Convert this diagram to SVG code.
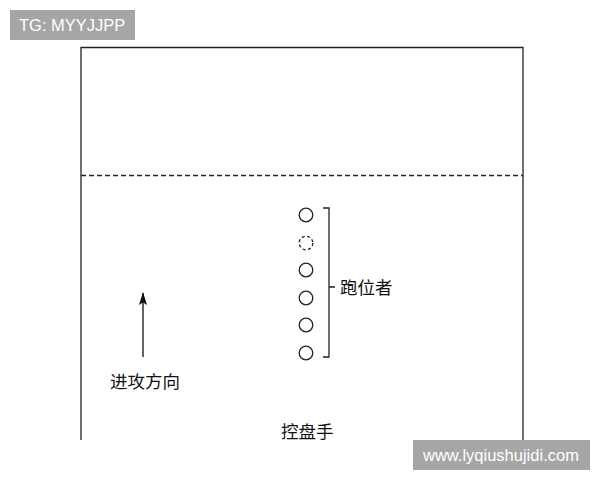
<svg xmlns="http://www.w3.org/2000/svg" width="600" height="480" viewBox="0 0 600 480">
<style>
.ln{stroke:#222;stroke-width:1.3;fill:none}
.c{stroke:#222;stroke-width:1.3;fill:none}
.t{font-family:"Liberation Serif","Noto Sans CJK SC",serif;font-size:17.5px;fill:#111}
.wm{fill:#a6a6a6}
.wt{font-family:"Liberation Sans","Noto Sans",sans-serif;font-size:16.5px;fill:#fff}
</style>
<defs>
<marker id="ah" markerWidth="13" markerHeight="8" refX="12" refY="4" orient="auto" markerUnits="userSpaceOnUse" viewBox="0 0 13 8">
<path d="M13,4 L0,0 L2.5,4 L0,8 Z" fill="#111"/>
</marker>
</defs>
<rect width="600" height="480" fill="#fff"/>
<g id="field">
<path class="ln" d="M81,440 V47.5 H523 V440"/>
<line x1="81" y1="175.5" x2="523" y2="175.5" stroke="#222" stroke-width="1.3" stroke-dasharray="5,3"/>
</g>
<g id="runners">
<circle class="c" cx="306" cy="215" r="6.8"/>
<circle class="c" cx="306" cy="243" r="6.8" stroke-dasharray="3,2.5"/>
<circle class="c" cx="306" cy="270" r="6.8"/>
<circle class="c" cx="306" cy="298" r="6.8"/>
<circle class="c" cx="306" cy="325" r="6.8"/>
<circle class="c" cx="306" cy="353" r="6.8"/>
</g>
<g id="bracket">
<path class="ln" d="M323,208 H329 V357 H323 M329,287 H335"/>
<text class="t" x="340" y="294">跑位者</text>
</g>
<g id="connectors">
<line x1="143" y1="357" x2="143" y2="293" stroke="#111" stroke-width="1.3" marker-end="url(#ah)"/>
</g>
<g id="direction">
<text class="t" x="110" y="388">进攻方向</text>
</g>
<g id="handler">
<text class="t" x="281" y="438">控盘手</text>
</g>
<g id="watermarks">
<rect class="wm" x="10" y="10" width="125" height="30"/>
<text class="wt" x="19" y="31">TG: MYYJJPP</text>
<rect class="wm" x="413" y="440" width="177" height="30"/>
<text class="wt" x="423" y="461">www.lyqiushujidi.com</text>
</g>
</svg>
